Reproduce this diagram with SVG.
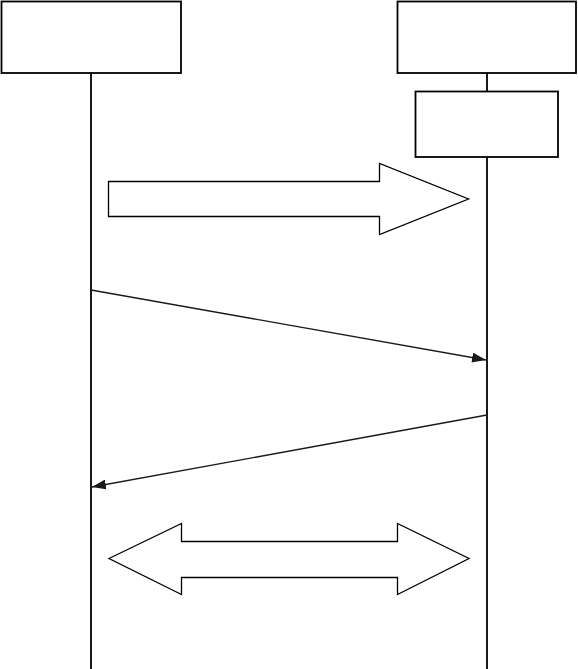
<svg xmlns="http://www.w3.org/2000/svg" width="578" height="669" viewBox="0 0 578 669">
<style>
.box{fill:#fff;stroke:#000;stroke-width:1.8}
.life{stroke:#000;stroke-width:1.8;fill:none}
.msg{stroke:#1a1a1a;stroke-width:1.4;fill:none}
.blk{fill:#fff;stroke:#000;stroke-width:1.3;stroke-linejoin:miter}
</style>
<defs>
<marker id="ah" viewBox="0 0 14 10" refX="14" refY="5" markerWidth="14" markerHeight="10" markerUnits="userSpaceOnUse" orient="auto">
<path d="M0,0 L14,5 L0,10 Z" fill="#1a1a1a"/>
</marker>
</defs>
<rect width="578" height="669" fill="#fff"/>
<g id="connectors">
<line class="life" x1="91" y1="73" x2="91" y2="669"/>
<line class="life" x1="487" y1="73" x2="487" y2="91" stroke-width="1.4"/>
<line class="life" x1="487" y1="157" x2="487" y2="669" stroke-width="1.3"/>
<line class="msg" x1="91" y1="290" x2="486" y2="360" marker-end="url(#ah)"/>
<line class="msg" x1="487" y1="415" x2="92" y2="487" marker-end="url(#ah)"/>
</g>
<g id="nodeA"><rect class="box" x="1.5" y="1.5" width="179.5" height="71.5"/></g>
<g id="nodeB"><rect class="box" x="397.5" y="1.5" width="178.5" height="71.5"/></g>
<g id="nodeC"><rect class="box" x="415.5" y="91.5" width="142.5" height="65.5"/></g>
<g id="arrow1"><path class="blk" d="M108.5,181.5 H379.5 V163.5 L468.5,199 L379.5,234.5 V216.5 H108.5 Z"/></g>
<g id="arrow2"><path class="blk" d="M109,558.5 L181.5,523.5 V541.5 H397.5 V523.5 L469,558.5 L397.5,594.5 V577.5 H181.5 V594.5 Z"/></g>
</svg>
